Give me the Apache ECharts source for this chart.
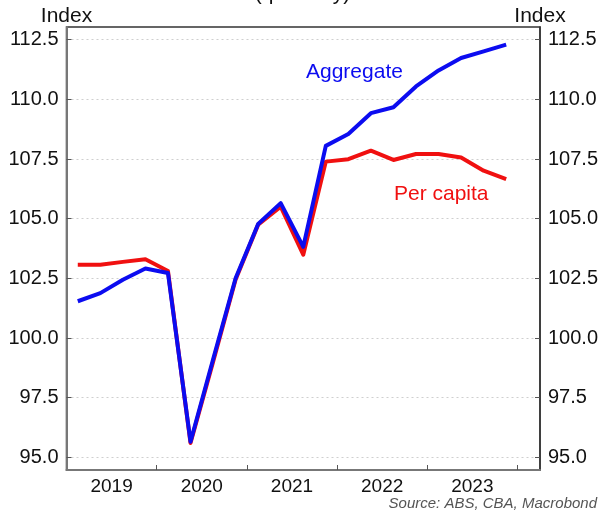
<!DOCTYPE html>
<html>
<head>
<meta charset="utf-8">
<script src="https://cdn.jsdelivr.net/npm/echarts@6/dist/echarts.min.js"></script>
<style>
  html, body { margin: 0; padding: 0; background: #fff; }
  #chart { width: 605px; height: 514px; }
</style>
</head>
<body>
<div id="chart"></div>
<script>
// Quarterly observations, 2019 Q1 to 2023 Q4
const quarters = [
  '2019Q1', '2019Q2', '2019Q3', '2019Q4',
  '2020Q1', '2020Q2', '2020Q3', '2020Q4',
  '2021Q1', '2021Q2', '2021Q3', '2021Q4',
  '2022Q1', '2022Q2', '2022Q3', '2022Q4',
  '2023Q1', '2023Q2', '2023Q3', '2023Q4'
];
const aggregate = [
  101.54, 101.88, 102.44, 102.91,
  102.72, 95.65, 99.10, 102.50,
  104.78, 105.65, 103.82, 108.05,
  108.55, 109.42, 109.67, 110.54,
  111.21, 111.73, 112.01, 112.29
];
const perCapita = [
  103.07, 103.07, 103.19, 103.30,
  102.81, 95.60, 99.00, 102.45,
  104.75, 105.50, 103.49, 107.39,
  107.49, 107.85, 107.46, 107.71,
  107.71, 107.56, 107.01, 106.66
];
const yTicks = [95, 97.5, 100, 102.5, 105, 107.5, 110, 112.5];
const years = ['2019', '2020', '2021', '2022', '2023'];

// x position of each quarter: centred within its quarter slot
const toPoints = vals => vals.map((v, i) => [i + 0.5, v]);
// year boundaries and year mid-points, in quarter units
const yearEdges = years.map((y, i) => (i + 1) * 4);
const yearMids = years.map((y, i) => i * 4 + 2);

const font = 'Liberation Sans, Arial, sans-serif';
const labelStyle = { fontFamily: font, fontSize: 19, color: '#111' };

const yAxisBase = {
  type: 'value',
  min: 94.47,
  max: 113.03,
  axisLine: { show: true, lineStyle: { color: '#777', width: 2 } },
  axisTick: { show: true, inside: true, length: 5, customValues: yTicks, lineStyle: { color: '#555' } },
  axisLabel: Object.assign({ customValues: yTicks, margin: 8, formatter: v => v.toFixed(1) }, labelStyle, { fontSize: 20 }),
  splitLine: { show: true, lineStyle: { color: '#cfcfcf', type: [2, 3], width: 1 } },
  nameLocation: 'end',
  nameGap: 11,
  nameTextStyle: { fontFamily: font, fontSize: 21, color: '#111', align: 'center', verticalAlign: 'middle' }
};

const chart = echarts.init(document.getElementById('chart'), null, { renderer: 'canvas' });
chart.setOption({
  animation: false,
  backgroundColor: '#fff',
  grid: {
    left: 66.5, right: 65, top: 27, bottom: 44,
    show: true, borderColor: '#333', borderWidth: 1.5, backgroundColor: 'transparent'
  },
  xAxis: {
    type: 'value',
    min: 0,
    max: 21,
    axisLine: { show: true, onZero: false, lineStyle: { color: '#777', width: 2 } },
    axisTick: { show: true, inside: true, length: 5, customValues: yearEdges, lineStyle: { color: '#555' } },
    axisLabel: Object.assign({
      customValues: yearMids,
      margin: 7,
      formatter: v => years[Math.round((v - 2) / 4)]
    }, labelStyle),
    splitLine: { show: false }
  },
  yAxis: [
    Object.assign({}, yAxisBase, { position: 'left', name: 'Index' }),
    Object.assign({}, yAxisBase, {
      position: 'right', name: 'Index',
      splitLine: { show: false },
      axisLine: { show: true, lineStyle: { color: '#333', width: 1.5 } }
    })
  ],
  series: [
    {
      name: 'Per capita',
      type: 'line',
      data: toPoints(perCapita),
      symbol: 'none',
      lineStyle: { color: '#f01010', width: 4, join: 'round' },
      z: 2
    },
    {
      name: 'Aggregate',
      type: 'line',
      data: toPoints(aggregate),
      symbol: 'none',
      lineStyle: { color: '#0c0cf0', width: 4, join: 'round' },
      z: 3
    }
  ],
  graphic: [
    {
      type: 'text', left: 'center', top: -16,
      style: { text: '(quarterly)', fontFamily: font, fontSize: 21, fill: '#111' }
    },
    {
      type: 'text', x: 306, y: 72,
      style: { text: 'Aggregate', fontFamily: font, fontSize: 21, fill: '#0c0cf0', verticalAlign: 'middle' }
    },
    {
      type: 'text', x: 394, y: 194,
      style: { text: 'Per capita', fontFamily: font, fontSize: 21, fill: '#f01010', verticalAlign: 'middle' }
    },
    {
      type: 'text', right: 8, top: 496,
      style: { text: 'Source: ABS, CBA, Macrobond', fontFamily: font, fontSize: 15, fontStyle: 'italic', fill: '#555' }
    }
  ]
});
</script>
</body>
</html>
